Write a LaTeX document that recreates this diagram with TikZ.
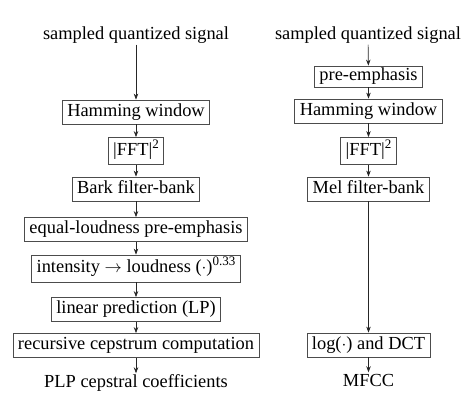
\documentclass[tikz,border=0pt]{standalone}
\usepackage{fontspec}
\setmainfont{Liberation Serif}
\usetikzlibrary{arrows.meta}
\newcommand{\mysup}[1]{\raisebox{7pt}{\fontsize{13}{13}\selectfont #1}}
\begin{document}
\begin{tikzpicture}[x=1pt,y=-1pt,
  font=\fontsize{18.4}{21}\selectfont,
  box/.style={draw=black!70,line width=0.8pt,inner xsep=5pt,inner ysep=0pt,minimum height=24pt,text height=13pt,text depth=4pt},
  lbl/.style={inner sep=1pt,text height=13pt,text depth=4pt},
  arr/.style={draw=black!85,line width=0.7pt,-{Stealth[length=6pt,width=4.5pt]}}]
\useasboundingbox (0,0) rectangle (463,411);
% left column
\node[lbl] (ls) at (136,35) {sampled quantized signal};
\node[box] (lh) at (136,112) {Hamming window};
\node[box,minimum height=27pt] (lf) at (136,151) {|FFT|\mysup{2}};
\node[box] (lb) at (136,189) {Bark filter-bank};
\node[box] (le) at (136,229.5) {equal-loudness pre-emphasis};
\node[box,minimum height=27pt] (li) at (136,268.5) {intensity $\rightarrow$ loudness ($\cdot$)\mysup{0.33}};
\node[box] (ll) at (136,309.5) {linear prediction (LP)};
\node[box] (lr) at (136,345.5) {recursive cepstrum computation};
\node[lbl] (lp) at (136,383) {PLP cepstral coefficients};
% right column
\node[lbl] (rs) at (368,35) {sampled quantized signal};
\node[box,minimum height=21pt] (rp) at (368.5,76.5) {pre-emphasis};
\node[box] (rh) at (368.5,111) {Hamming window};
\node[box,minimum height=27pt] (rf) at (368.5,151) {|FFT|\mysup{2}};
\node[box] (rm) at (368.5,189) {Mel filter-bank};
\node[box] (rl) at (368.5,345) {log($\cdot$) and DCT};
\node[lbl] (rc) at (368.5,382) {MFCC};
% arrows
\foreach \a/\b in {ls/lh,lh/lf,lf/lb,lb/le,le/li,li/ll,ll/lr,lr/lp,rs/rp,rp/rh,rh/rf,rf/rm,rm/rl,rl/rc}
  \draw[arr] (\a) -- (\b);
\end{tikzpicture}
\end{document}
